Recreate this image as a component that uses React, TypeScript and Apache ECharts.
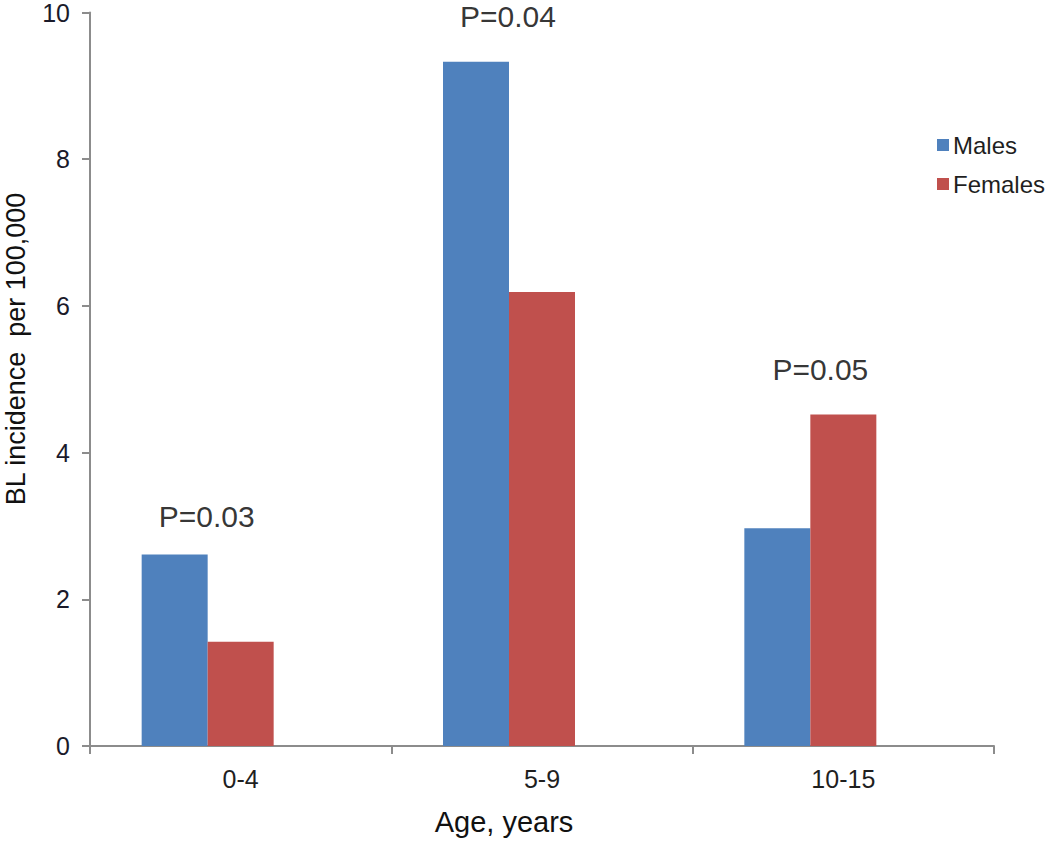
import React, { useEffect, useRef } from "react";
import * as echarts from "echarts";

const categories = ["0-4", "5-9", "10-15"];
const males = [2.61, 9.33, 2.97];
const females = [1.42, 6.19, 4.52];
const pLabels = ["P=0.03", "P=0.04", "P=0.05"];
const pLabelY = [3.13, 9.95, 5.13];
const yTicks = [0, 2, 4, 6, 8, 10];

const FONT = "'Liberation Sans', Arial, sans-serif";

export default function App() {
  const ref = useRef<HTMLDivElement>(null);
  useEffect(() => {
    if (!ref.current) return;
    const chart = echarts.init(ref.current, undefined, { renderer: "svg" });
    chart.setOption({
      animation: false,
      backgroundColor: "#ffffff",
      textStyle: { fontFamily: FONT },
      grid: { left: 90, right: 56, top: 11, bottom: 95, containLabel: false },
      legend: {
        data: ["Males", "Females"],
        orient: "vertical",
        left: 932,
        top: 128,
        icon: "rect",
        itemWidth: 12,
        itemHeight: 12,
        itemGap: 15,
        textStyle: { fontSize: 24, color: "#1f1f1f", fontFamily: FONT, padding: [0, 0, 0, -1] },
      },
      xAxis: {
        type: "category",
        data: categories,
        axisLine: { lineStyle: { color: "#8c8c8c", width: 2 } },
        axisTick: { show: true, length: 8, lineStyle: { color: "#8c8c8c", width: 2 } },
        axisLabel: { fontSize: 25, color: "#1f1f1f", margin: 20, fontFamily: FONT },
        splitLine: { show: false },
      },
      yAxis: {
        type: "value",
        min: yTicks[0],
        max: yTicks[yTicks.length - 1],
        interval: 2,
        axisLine: { show: true, lineStyle: { color: "#8c8c8c", width: 2 } },
        axisTick: { show: true, length: 8, lineStyle: { color: "#8c8c8c", width: 2 } },
        axisLabel: { fontSize: 25, color: "#1a1a2a", margin: 20, fontFamily: FONT },
        splitLine: { show: false },
      },
      series: [
        {
          name: "Males",
          type: "bar",
          data: males,
          barWidth: 66,
          barGap: "0%",
          itemStyle: { color: "#4F81BD" },
        },
        {
          name: "Females",
          type: "bar",
          data: females,
          barWidth: 66,
          barGap: "0%",
          itemStyle: { color: "#C0504D" },
        },
        {
          name: "hidden",
          type: "bar",
          data: categories.map(() => null),
          barWidth: 66,
          barGap: "0%",
          itemStyle: { color: "transparent" },
        },
        {
          name: "pvalues",
          type: "scatter",
          symbolSize: 0,
          silent: true,
          data: pLabelY.map((v, i) => ({
            value: [i, v],
            label: { offset: [i === 2 ? -23 : -34, 0] },
          })),
          label: {
            show: true,
            position: "inside",
            formatter: (p: any) => pLabels[p.dataIndex],
            fontSize: 30,
            color: "#000",
            fontFamily: FONT,
          },
          z: 10,
        },
      ],
      graphic: [
        {
          type: "text",
          x: 504,
          y: 822,
          style: {
            text: "Age, years",
            fontSize: 29,
            fontFamily: FONT,
            fill: "#111",
            textAlign: "center",
            textVerticalAlign: "middle",
          },
        },
        {
          type: "text",
          x: 16,
          y: 349,
          rotation: Math.PI / 2,
          style: {
            text: "BL incidence  per 100,000",
            fontSize: 27,
            fontFamily: FONT,
            fill: "#111",
            textAlign: "center",
            textVerticalAlign: "middle",
          },
        },
      ],
    });
    return () => chart.dispose();
  }, []);
  return (
    <div
      ref={ref}
      style={{ position: "absolute", left: 0, top: 0, width: 1050, height: 841 }}
    />
  );
}
